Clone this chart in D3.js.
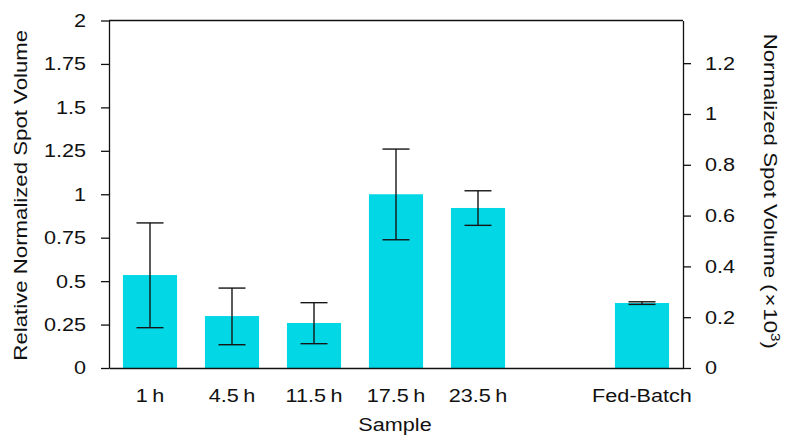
<!DOCTYPE html>
<html>
<head>
<meta charset="utf-8">
<script src="https://cdn.jsdelivr.net/npm/d3@7"></script>
<style>
  html, body { margin: 0; padding: 0; background: #fff; }
  svg { display: block; }
  text { font-family: "Liberation Sans", Arial, Helvetica, sans-serif; fill: #111; }
</style>
</head>
<body>
<svg id="chart" width="788" height="438"></svg>
<script>
// Samples along the x axis (the blank slot separates the time series from the fed-batch run)
const categories = ["1\u2009h", "4.5\u2009h", "11.5\u2009h", "17.5\u2009h", "23.5\u2009h", "", "Fed-Batch"];
// Relative normalized spot volume per sample
const values  = [0.535, 0.299, 0.259, 1.000, 0.921, null, 0.374];
// Error bar bounds
const errLow  = [0.232, 0.134, 0.140, 0.738, 0.821, null, 0.366];
const errHigh = [0.835, 0.460, 0.376, 1.260, 1.020, null, 0.381];
// Axis ticks
const leftTicks  = [0, 0.25, 0.5, 0.75, 1, 1.25, 1.5, 1.75, 2];
const rightTicks = [0, 0.2, 0.4, 0.6, 0.8, 1, 1.2];

const svg = d3.select("#chart");
const plot = { left: 109, right: 683, top: 20.5, bottom: 368 };
const FONT = 18.5;
const STRETCH = 1.17;   // the typeface runs a little wider than Liberation Sans

const x = d3.scaleBand()
  .domain(d3.range(categories.length))
  .range([plot.left, plot.right])
  .paddingInner(0.34)
  .paddingOuter(0.17);

const y = d3.scaleLinear().domain([0, 2]).range([plot.bottom, plot.top]);
const yRight = d3.scaleLinear().domain([0, 1.368]).range([plot.bottom, plot.top]);

// Bars
svg.append("g")
  .selectAll("rect")
  .data(values.map((v, i) => ({ v, i })).filter(d => d.v != null))
  .join("rect")
  .attr("x", d => x(d.i))
  .attr("width", x.bandwidth())
  .attr("y", d => y(d.v))
  .attr("height", d => y(0) - y(d.v))
  .attr("fill", "#02d7e6");

// Error bars
const errData = values.map((v, i) => ({ i, lo: errLow[i], hi: errHigh[i] })).filter(d => d.lo != null);
const cap = 13.5;
const cx = d => x(d.i) + x.bandwidth() / 2;
const eg = svg.append("g").attr("stroke", "#151515").attr("stroke-width", 1.4).attr("fill", "none");
eg.selectAll("line.stem").data(errData).join("line").attr("class", "stem")
  .attr("x1", cx).attr("x2", cx)
  .attr("y1", d => y(d.lo)).attr("y2", d => y(d.hi));
eg.selectAll("line.top").data(errData).join("line").attr("class", "top")
  .attr("x1", d => cx(d) - cap).attr("x2", d => cx(d) + cap)
  .attr("y1", d => y(d.hi)).attr("y2", d => y(d.hi));
eg.selectAll("line.bot").data(errData).join("line").attr("class", "bot")
  .attr("x1", d => cx(d) - cap).attr("x2", d => cx(d) + cap)
  .attr("y1", d => y(d.lo)).attr("y2", d => y(d.lo));

// Frame top edge
svg.append("line")
  .attr("x1", plot.left).attr("x2", plot.right)
  .attr("y1", plot.top).attr("y2", plot.top)
  .attr("stroke", "#111").attr("stroke-width", 1.3);

// Horizontally widen a tick label around its anchor point
function widenTickText(g) {
  g.selectAll(".tick text").each(function () {
    const t = d3.select(this);
    const tx = +(t.attr("x") || 0);
    t.attr("x", tx / STRETCH).attr("transform", `scale(${STRETCH},1)`);
  });
}

function styleAxis(g) {
  g.select(".domain").attr("stroke", "#111").attr("stroke-width", 1.3);
  g.selectAll(".tick line").attr("stroke", "#111").attr("stroke-width", 1.3);
  g.selectAll("text").attr("font-size", FONT).attr("font-family", null).attr("fill", "#111");
  widenTickText(g);
}

// Left axis
svg.append("g")
  .attr("transform", `translate(${plot.left},0)`)
  .call(d3.axisLeft(y).tickValues(leftTicks).tickSize(8).tickSizeOuter(0).tickPadding(15)
    .tickFormat(d => d3.format("~g")(d)))
  .call(styleAxis);

// Right axis
svg.append("g")
  .attr("transform", `translate(${plot.right},0)`)
  .call(d3.axisRight(yRight).tickValues(rightTicks).tickSize(8).tickSizeOuter(0).tickPadding(14)
    .tickFormat(d => d3.format("~g")(d)))
  .call(styleAxis);

// Bottom axis
svg.append("g")
  .attr("transform", `translate(0,${plot.bottom})`)
  .call(d3.axisBottom(x).tickSize(0).tickSizeOuter(0).tickPadding(21).tickFormat(i => categories[i]))
  .call(styleAxis);

// Axis titles
svg.append("text")
  .attr("transform", `translate(${(plot.left + plot.right) / 2 - 1},430.5) scale(${STRETCH},1)`)
  .attr("text-anchor", "middle")
  .attr("font-size", FONT)
  .text("Sample");

svg.append("text")
  .attr("transform", `translate(26.5,${(plot.top + plot.bottom) / 2 + 1}) rotate(-90) scale(${STRETCH},1)`)
  .attr("text-anchor", "middle")
  .attr("font-size", 19)
  .text("Relative Normalized Spot Volume");

const rt = svg.append("text")
  .attr("transform", `translate(763.5,${(plot.top + plot.bottom) / 2 - 3}) rotate(90) scale(${STRETCH},1)`)
  .attr("text-anchor", "middle")
  .attr("font-size", 19);
rt.append("tspan").text("Normalized Spot Volume (\u200a\u00d7\u200a10");
rt.append("tspan").attr("font-size", 13).attr("dy", -8).text("3");
rt.append("tspan").attr("dy", 8).text(")");
</script>
</body>
</html>
